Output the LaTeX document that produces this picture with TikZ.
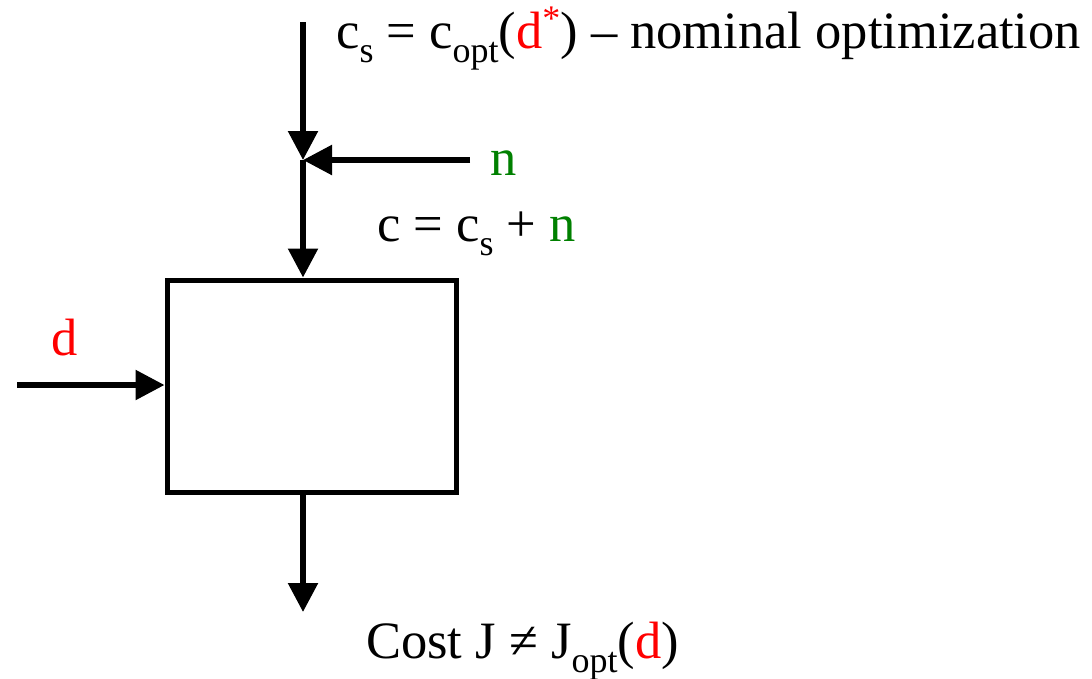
\documentclass[tikz,border=0pt]{standalone}
\usepackage{fontspec}
\setmainfont{Liberation Serif}
\usetikzlibrary{arrows.meta}
\definecolor{dred}{RGB}{255,0,0}
\definecolor{dgreen}{RGB}{0,128,0}
\newcommand\lsub[1]{\raisebox{-14pt}{\fontsize{36}{36}\selectfont #1}}
\newcommand\lsup[1]{\raisebox{18pt}{\fontsize{36}{36}\selectfont #1}}
\begin{document}
\begin{tikzpicture}[x=1pt,y=-1pt,
  conn/.style={line width=5.5pt,-{Triangle[length=29pt,width=29pt]}},
  blk/.style={draw,line width=5pt,minimum width=289pt,minimum height=212pt,inner sep=0pt},
  lbl/.style={anchor=base west,inner sep=0pt,font=\fontsize{52.5}{60}\selectfont}]
\useasboundingbox (0,0) rectangle (1092,678);
\node[blk] (box) at (311.5,386) {};
\coordinate (top) at (303,22);
\coordinate (j) at (303,160);
\coordinate (nstart) at (470,160);
\coordinate (dstart) at (17,385);
\coordinate (bot) at (303,612);
\draw[conn] (top) -- (j);
\draw[conn] (nstart) -- (j);
\draw[conn] (j) -- (j |- box.north);
\draw[conn] (dstart) -- (box.west |- dstart);
\draw[conn] (box.south -| j) -- (bot);
\node[lbl] (cs) at (336,48) {c\lsub{s} = c\lsub{opt}(\textcolor{dred}{d\lsup{*}}) – nominal optimization};
\node[lbl,text=dgreen] (n) at (490,175) {n};
\node[lbl] (c) at (377,241) {c = c\lsub{s} + \textcolor{dgreen}{n}};
\node[lbl,text=dred] (d) at (51,355) {d};
\node[lbl] (cost) at (366,658) {Cost J ≠ J\lsub{opt}(\textcolor{dred}{d})};
\end{tikzpicture}
\end{document}
